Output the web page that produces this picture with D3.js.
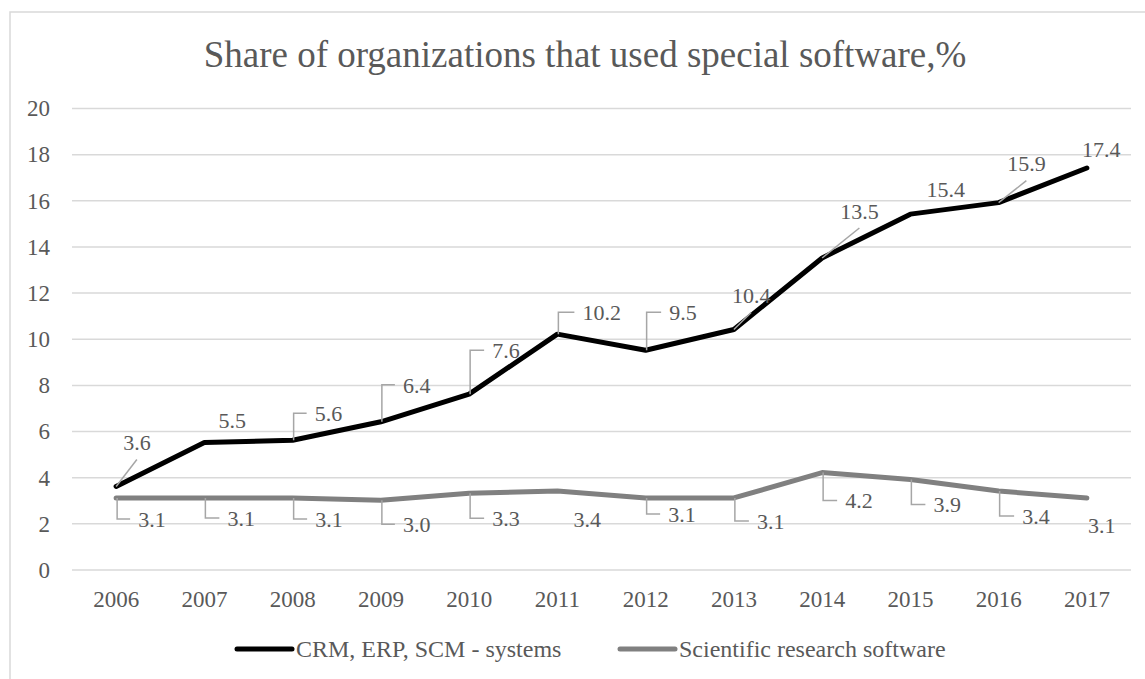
<!DOCTYPE html>
<html>
<head>
<meta charset="utf-8">
<script src="https://cdn.jsdelivr.net/npm/d3@7"></script>
<style>
  html, body { margin: 0; padding: 0; background: #fff; }
  svg { display: block; }
</style>
</head>
<body>
<svg id="chart" width="1145" height="679"></svg>
<script>
// Years on the category axis
const years = ["2006", "2007", "2008", "2009", "2010", "2011", "2012", "2013", "2014", "2015", "2016", "2017"];

// Share of organizations, %
const crmValues = [3.6, 5.5, 5.6, 6.4, 7.6, 10.2, 9.5, 10.4, 13.5, 15.4, 15.9, 17.4];
const sciValues = [3.1, 3.1, 3.1, 3.0, 3.3, 3.4, 3.1, 3.1, 4.2, 3.9, 3.4, 3.1];

const seriesNames = ["CRM, ERP, SCM - systems", "Scientific research software"];
const yTicks = [0, 2, 4, 6, 8, 10, 12, 14, 16, 18, 20];

// Label placement relative to each point: [dx to text start, dy to text middle, leader kind]
const crmLabelLayout = [
  [7, -44, "diag"], [14, -22, "none"], [22, -27, "elbow"], [22, -37, "elbow"],
  [23, -44, "elbow"], [25, -22, "elbow"], [23.5, -38, "elbow"], [-2, -34, "diag"],
  [18, -47, "diag"], [16, -25, "none"], [8.5, -39, "diag"], [-5, -19, "none"]
];
const sciLabelLayout = [
  [22, 21, "elbow"], [23, 20, "elbow"], [22.5, 21, "elbow"], [22, 24, "elbow"],
  [23, 25, "elbow"], [16, 28, "none"], [22.5, 16, "elbow"], [23, 23, "elbow"],
  [23, 28, "elbow"], [23, 25, "elbow"], [23.5, 25, "elbow"], [1, 27, "none"]
];

const FONT = '"Liberation Serif", "Times New Roman", serif';
const TEXT_COLOR = "#595959";

const svg = d3.select("#chart");
const W = 1145, H = 679;
const plot = { left: 72, right: 1131, top: 108, bottom: 569.5 };

// Outer chart frame
svg.append("rect")
  .attr("x", 10).attr("y", 12)
  .attr("width", W + 20).attr("height", H + 20)
  .attr("fill", "#fff")
  .attr("stroke", "#d9d9d9").attr("stroke-width", 1.5);

// Title
svg.append("text")
  .attr("x", 585).attr("y", 67)
  .attr("text-anchor", "middle")
  .style("font-family", FONT).style("font-size", "37px").style("fill", TEXT_COLOR)
  .text("Share of organizations that used special software,%");

const x = d3.scaleBand().domain(years).range([plot.left, plot.right]);
const y = d3.scaleLinear().domain([0, 20]).range([plot.bottom, plot.top]);
const cx = d => x(d) + x.bandwidth() / 2;

// Horizontal gridlines + y labels
const yAxis = d3.axisLeft(y).tickValues(yTicks).tickSize(-(plot.right - plot.left)).tickPadding(22).tickFormat(d3.format("d"));
const gy = svg.append("g").attr("transform", `translate(${plot.left},0)`).call(yAxis);
gy.select(".domain").remove();
gy.selectAll(".tick line").attr("stroke", "#d9d9d9").attr("stroke-width", 1.5);
gy.selectAll(".tick text")
  .style("font-family", FONT).style("font-size", "23px").style("fill", TEXT_COLOR)
  .attr("dy", "0.34em");

// Category labels
const xAxis = d3.axisBottom(x).tickSize(0).tickPadding(0);
const gx = svg.append("g").attr("transform", `translate(0,${plot.bottom})`).call(xAxis);
gx.select(".domain").remove();
gx.selectAll(".tick text")
  .style("font-family", FONT).style("font-size", "23px").style("fill", TEXT_COLOR)
  .attr("dy", null).attr("y", 37);

const line = d3.line().x((d, i) => cx(years[i])).y(d => y(d));

const series = [
  { values: sciValues, color: "#808080", layout: sciLabelLayout },
  { values: crmValues, color: "#000000", layout: crmLabelLayout }
];

series.forEach(s => {
  svg.append("path")
    .datum(s.values)
    .attr("d", line)
    .attr("fill", "none")
    .attr("stroke", s.color)
    .attr("stroke-width", 5)
    .attr("stroke-linejoin", "round")
    .attr("stroke-linecap", "round");
});

// Leader lines and value labels
function drawLabels(s) {
  const g = svg.append("g");
  s.values.forEach((v, i) => {
    const px = cx(years[i]), py = y(v);
    const [dx, dy, kind] = s.layout[i];
    const tx = px + dx, ty = py + dy;
    const t = g.append("text")
      .attr("x", tx).attr("y", ty).attr("dy", "0.35em")
      .style("font-family", FONT).style("font-size", "22px").style("fill", TEXT_COLOR)
      .text(v.toFixed(1));
    const w = t.node().getComputedTextLength();
    if (kind === "elbow") {
      g.append("path")
        .attr("d", `M${px + 1},${py} L${px + 1},${ty} L${tx - 8},${ty}`)
        .attr("fill", "none").attr("stroke", "#a6a6a6").attr("stroke-width", 1.5);
    } else if (kind === "diag") {
      g.append("line")
        .attr("x1", px).attr("y1", py)
        .attr("x2", tx + w / 2).attr("y2", ty + 17)
        .attr("stroke", "#a6a6a6").attr("stroke-width", 1.5);
    }
  });
}
series.forEach(drawLabels);

// Legend
const legendItems = [
  { name: seriesNames[0], color: "#000000", x: 237 },
  { name: seriesNames[1], color: "#808080", x: 620 }
];
const lg = svg.append("g");
legendItems.forEach(it => {
  lg.append("line")
    .attr("x1", it.x).attr("x2", it.x + 55)
    .attr("y1", 649).attr("y2", 649)
    .attr("stroke", it.color).attr("stroke-width", 5).attr("stroke-linecap", "round");
  lg.append("text")
    .attr("x", it.x + 59).attr("y", 649).attr("dy", "0.35em")
    .style("font-family", FONT).style("font-size", "24px").style("fill", TEXT_COLOR)
    .text(it.name);
});
</script>
</body>
</html>
